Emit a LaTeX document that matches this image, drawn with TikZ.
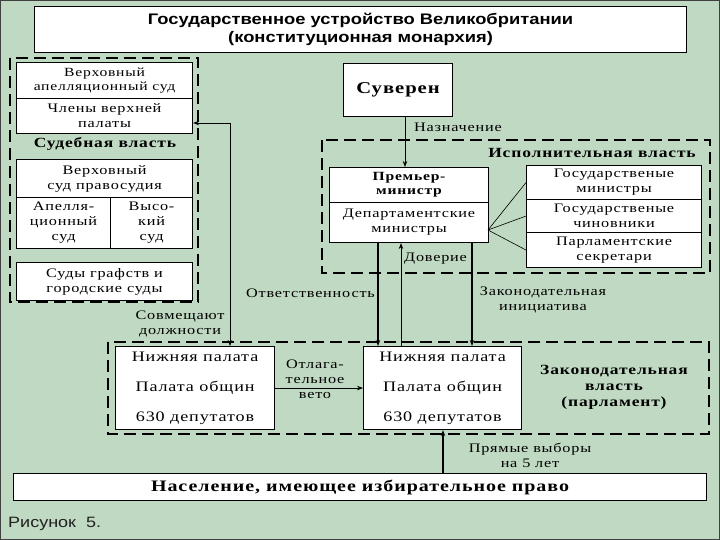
\documentclass[tikz,border=0pt]{standalone}
\usepackage{fontspec}
\setmainfont{Liberation Serif}
\newfontfamily\bodyfont{Liberation Serif}[FakeStretch=1.25,LetterSpace=6]
\newfontfamily\titlefont{Liberation Sans}[FakeStretch=1.2]
\newfontfamily\capfont{Liberation Sans}[FakeStretch=1.2]
\usetikzlibrary{arrows.meta}
\definecolor{bg}{RGB}{192,217,194}
\begin{document}
\begin{tikzpicture}[x=1pt,y=-1pt,
 box/.style={draw=black,line width=1.1pt,fill=white,anchor=north west,inner sep=0pt,align=center,font=\bodyfont\fontsize{13}{15}\selectfont},
 lbl/.style={inner sep=0pt,align=center,font=\bodyfont\fontsize{13}{15}\selectfont},
 blbl/.style={inner sep=0pt,align=center,font=\bodyfont\bfseries\fontsize{14}{16}\selectfont},
 dframe/.style={draw=black,line width=1.2pt,dash pattern=on 12pt off 6pt},
 arr/.style={draw=black,line width=0.8pt,-{Stealth[length=6pt,width=4.5pt]}},
 tarr/.style={arr,line width=1.8pt},
 link/.style={draw=black,line width=0.6pt}
]
\useasboundingbox (0,0) rectangle (720,540);
\fill[bg] (0,0) rectangle (720,540);
\draw[gray!50!black,line width=1pt] (0.5,0.5) rectangle (719.5,539.5);

% title
\node[box,minimum width=652pt,minimum height=46pt,font=\titlefont\bfseries\fontsize{15.3}{18}\selectfont] (T) at (34,6)
  {Государственное устройство Великобритании\\(конституционная монархия)};

% judicial
\draw[dframe] (10,58) rectangle (198,302);
\node[box,minimum width=176pt,minimum height=36pt,font=\bodyfont\fontsize{12.5}{14}\selectfont] (A1) at (16,62) {Верховный\\апелляционный суд};
\node[box,minimum width=176pt,minimum height=35pt] (A2) at (16,98) {Члены верхней\\палаты};
\node[blbl] (JL) at (105,144) {Судебная власть};
\node[box,minimum width=176pt,minimum height=38pt] (B1) at (16,159) {Верховный\\суд правосудия};
\node[box,minimum width=94pt,minimum height=51pt] (B2) at (16,197) {Апелля-\\ционный\\суд};
\node[box,minimum width=82pt,minimum height=51pt] (B3) at (110,197) {Высо-\\кий\\суд};
\node[box,minimum width=176pt,minimum height=38pt] (C1) at (16,262) {Суды графств и\\городские суды};

% sovereign and executive
\node[box,minimum width=109pt,minimum height=53pt,font=\bodyfont\bfseries\fontsize{16.5}{18}\selectfont] (S) at (343,63) {Суверен};
\draw[dframe] (322,140) rectangle (710,273);
\node[blbl] (EL) at (592,153) {Исполнительная власть};
\node[box,minimum width=159pt,minimum height=35pt,font=\bodyfont\bfseries\fontsize{12.5}{14}\selectfont] (P1) at (329,167) {Премьер-\\министр};
\node[box,minimum width=159pt,minimum height=40pt] (P2) at (329,202) {Департаментские\\министры};
\node[box,minimum width=175pt,minimum height=34pt] (R1) at (526,165) {Государственые\\министры};
\node[box,minimum width=175pt,minimum height=33pt] (R2) at (526,199) {Государственые\\чиновники};
\node[box,minimum width=175pt,minimum height=35pt] (R3) at (526,232) {Парламентские\\секретари};
\coordinate (fan) at (488,230);
\draw[link] (fan) -- (R1.west);
\draw[link] (fan) -- (R2.west);
\draw[link] (fan) -- (R3.west);

% legislative
\draw[dframe] (108,342) rectangle (709,434);
\node[box,minimum width=159pt,minimum height=83pt,font=\bodyfont\fontsize{14.5}{16}\selectfont] (L1) at (115,346) {Нижняя палата\\[14pt]Палата общин\\[14pt]630 депутатов};
\node[box,minimum width=158pt,minimum height=83pt,font=\bodyfont\fontsize{14.5}{16}\selectfont] (L2) at (363,346) {Нижняя палата\\[14pt]Палата общин\\[14pt]630 депутатов};
\node[blbl] (LL) at (614,387) {Законодательная\\власть\\(парламент)};

% population
\node[box,minimum width=693pt,minimum height=27pt,font=\bodyfont\bfseries\fontsize{16}{18}\selectfont] (N) at (13,473) {Население, имеющее избирательное право};
\node[anchor=west,inner sep=0pt,text=gray!25!black,font=\capfont\fontsize{15}{17}\selectfont] (cap) at (8,524) {Рисунок\ \ 5.};

% connectors
\coordinate (xs) at (405,0);
\coordinate (xo) at (378,0);
\coordinate (xd) at (401,0);
\coordinate (xz) at (472,0);
\coordinate (xp) at (443,0);
\coordinate (xc) at (230,0);
\coordinate (cy) at (0,123);
\draw[arr] (xs |- S.south) -- (xs |- P1.north);
\node[lbl,anchor=west] (nazn) at (414,127) {Назначение};
\draw[tarr] (xo |- P2.south) -- (xo |- L2.north);
\draw[arr] (xd |- L2.north) -- (xd |- P2.south);
\draw[tarr] (xz |- P2.south) -- (xz |- L2.north);
\node[lbl,anchor=west] (dov) at (404,259) {Доверие};
\node[lbl,anchor=east] (otv) at (375,293) {Ответственность};
\node[lbl] (zin) at (543,300) {Законодательная\\инициатива};
\draw[arr,{Stealth[length=6pt,width=4.5pt]}-{Stealth[length=6pt,width=4.5pt]}] (A2.east |- cy) -| (xc |- L1.north);
\node[lbl] (sovm) at (180,324) {Совмещают\\должности};
\draw[arr] (L1.east) -- (L2.west);
\node[lbl] (veto) at (315,379) {Отлага-\\тельное\\вето};
\draw[tarr] (xp |- N.north) -- (xp |- L2.south);
\node[lbl] (vyb) at (530,455) {Прямые выборы\\на 5 лет};
\end{tikzpicture}
\end{document}
